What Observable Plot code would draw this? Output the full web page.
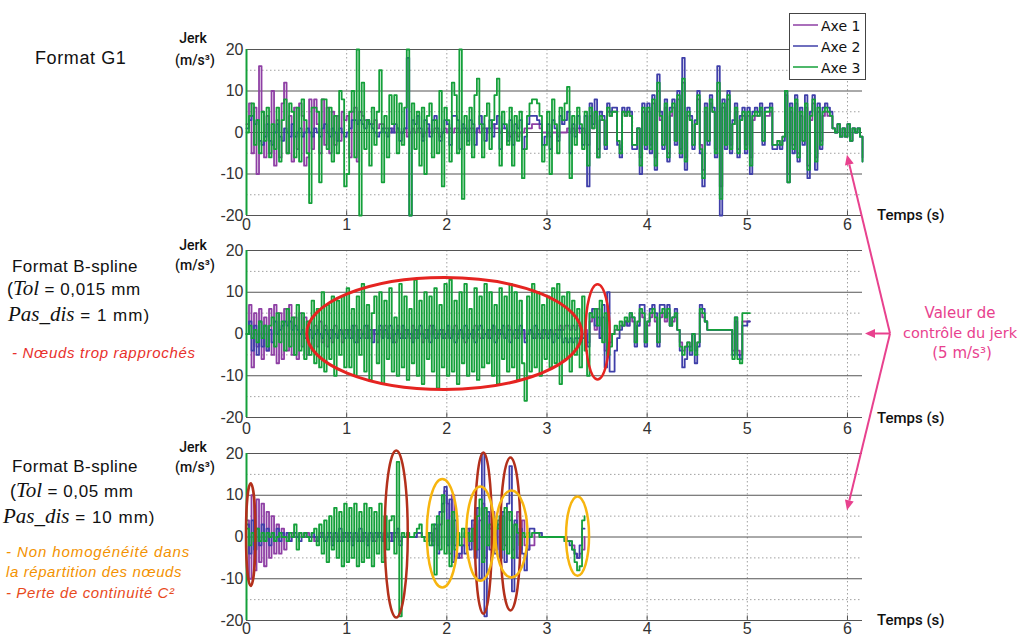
<!DOCTYPE html>
<html><head><meta charset="utf-8">
<script src="https://cdn.jsdelivr.net/npm/d3@7"></script>
<script src="https://cdn.jsdelivr.net/npm/@observablehq/plot@0.6"></script>
<style>
html,body{margin:0;padding:0;background:#fff;}
#wrap{position:relative;width:1017px;height:637px;overflow:hidden;background:#fff;}
#wrap svg.panel{position:absolute;left:0;}
#overlay{position:absolute;left:0;top:0;pointer-events:none;}
</style></head><body><div id="wrap"></div>
<script>
// ---------- data (jerk, m/s^3), sampled every DT seconds from t = 0 ----------
const DT = 0.025;
const axes = ["Axe 1", "Axe 2", "Axe 3"];
const xTicks = [0, 1, 2, 3, 4, 5, 6];
const yTicks = [-20, -10, 0, 10, 20];

// Panel 1 : Format G1
const g1Axe1 = [
  2,7,-5,6,-10,16,5,-6,4,-5,10,-8,3,-6,7,12,-5,4,-7,6,-4,7,4,-8,-6,8,-4,8,2,-5,8,-3,6,-5,5,-3,4,-2,5,3,
  4,-6,5,6,-7,5,4,3,3,2,2,3,1,2,2,1,1,0,1,0,1,0,0,1,-1,0,1,0,1,0,-1,0,1,0,0,1,0,-1,0,1,
  0,1,0,1,1,0,1,0,0,1,1,0,1,0,1,1,0,1,2,1,1,0,1,1,0,-1,0,0,-1,0,0,1,1,1,2,2,2,1,0,0,
  0,-1,0,0,-1,0,0,0,1,0,1,0,1,0,1,0,-3,4,1,5,-4,3,3,-3,5,4,5,5,-2,-4,5,4,5,4,-3,-3,1,-6,5,-3,
  5,-3,7,-6,10,3,-3,6,-5,4,6,-2,8,-4,12,-6,4,3,-3,2,8,-3,-9,5,-2,7,5,-4,10,-13,6,-3,8,-3,2,5,-4,3,4,-3,
  4,-6,3,4,4,5,-2,4,4,5,-3,-3,-2,-3,-1,9,-10,5,-3,7,-5,4,-2,6,-8,3,7,-6,5,-2,4,5,4,4,1,0,2,-1,1,-1,
  2,-2,1,0,1,-1,-6];
const g1Axe2 = [
  1,3,4,2,3,-2,-3,-1,2,-2,-3,0,2,-1,-2,1,0,-1,2,-1,0,1,-1,0,1,0,-1,1,0,-1,1,2,0,-1,1,0,-2,1,0,-1,
  0,1,3,3,2,3,2,1,3,2,1,0,-1,0,1,0,-1,1,0,2,1,-2,0,1,18,-20,3,2,4,1,-2,3,2,-1,3,4,1,-2,0,3,
  2,-3,4,4,3,-4,2,1,-2,3,2,-3,1,4,2,-2,1,3,-1,2,4,-4,2,1,-2,3,-3,2,1,3,-4,-1,2,4,4,4,3,2,-3,-1,
  2,-4,3,1,-2,4,2,3,5,-5,2,-1,4,1,-3,4,-13,7,2,8,-6,5,4,-4,7,5,6,6,-3,-6,6,5,6,5,-4,-4,1,-10,7,-4,
  7,-5,9,-9,14,5,-4,8,-7,6,8,-3,10,-6,18,-9,6,4,-4,3,10,-5,-13,7,-3,9,6,-6,16,-20,8,-4,10,-5,3,7,-6,4,6,-5,
  6,-10,5,6,5,7,-3,6,6,7,-4,-4,-3,-4,-2,10,-12,7,-5,9,-7,6,-3,9,-11,5,9,-9,7,-4,6,7,6,5,1,0,2,-1,1,-1,
  2,-2,1,0,1,-1,-7];
const g1Axe3 = [
  0,4,7,-3,3,-5,5,-2,6,-6,2,-4,6,-7,3,8,-5,7,5,-6,6,-7,8,3,-5,-17,6,6,5,-12,8,8,-4,6,-7,4,-5,10,8,-13,
  -10,5,10,-6,20,-20,12,-4,3,-8,6,-3,5,15,-12,4,-6,9,2,9,-5,7,-3,6,20,-20,7,-4,5,-8,6,-10,4,7,-6,3,-5,10,-13,6,
  3,-7,12,9,-5,20,-16,4,-3,6,-6,9,13,2,-6,4,7,-4,3,9,13,-8,5,2,-3,6,-8,4,-2,5,-11,-4,4,7,8,8,7,4,-7,-3,
  5,-10,8,2,-5,6,3,7,11,-11,4,-3,6,2,-4,5,-8,6,1,5,-6,4,3,-3,6,4,5,5,-2,-5,5,4,5,4,-3,-3,1,-8,6,-3,
  6,-4,8,-8,12,4,-3,7,-6,5,7,-2,9,-5,13,-7,5,3,-3,2,9,-4,-11,6,-2,8,5,-5,12,-16,7,-3,9,-4,2,6,-5,3,5,-4,
  5,-8,4,5,4,6,-2,5,5,6,-3,-3,-2,-3,-1,10,-12,6,-4,8,-6,5,-2,7,-9,4,8,-7,6,-3,5,6,5,4,1,0,2,-1,1,-1,
  2,-2,1,0,1,-1,-7];

// Panel 2 : Format B-spline (Tol = 0,015 mm, Pas_dis = 1 mm)
const b1Axe1 = [
  0,7,-8,5,-3,6,-6,4,-4,6,-5,7,-7,5,-6,6,-4,7,-5,4,-6,5,-3,4,-5,3,-4,2,-3,3,-2,2,-3,1,-2,2,-1,1,-2,1,
  0,1,-1,2,-2,1,0,-1,2,-1,1,0,-2,1,-1,2,0,-1,1,-2,2,0,-1,1,0,-1,2,-1,1,0,-2,1,-1,2,0,1,-1,0,1,-1,
  1,-1,0,2,-1,1,0,-2,1,0,-1,2,0,-1,1,0,-1,1,2,0,-1,1,0,-1,2,1,0,-1,1,0,1,-1,0,1,0,-1,1,0,-1,1,
  0,1,0,1,1,2,1,2,2,1,2,1,2,1,0,1,-2,3,4,1,6,-1,4,-4,-3,-2,0,1,1,2,2,3,2,4,3,-2,2,5,4,-2,
  2,4,5,3,-2,4,5,3,5,2,3,4,1,-2,-4,-3,-2,-3,0,-4,-2,5,4,3,1,1,1,1,1,1,1,1,1,1,-4,3,-4,-5,3,3,
  3,3];
const b1Axe2 = [
  0,3,-4,2,-5,3,-3,2,-4,1,-2,3,0,1,2,3,2,3,1,2,1,0,1,-1,0,1,-1,0,1,0,-1,1,0,-1,1,0,-1,1,0,-1,
  1,-1,2,-2,1,-1,0,2,-1,1,-2,1,0,2,-1,1,-1,2,-2,0,1,-1,2,-1,1,0,-2,1,-1,2,0,-1,1,-2,2,-1,0,1,-1,0,
  2,-1,1,-2,0,1,-1,2,-1,0,1,-2,1,2,-1,0,1,-1,2,-2,1,0,2,-1,1,-2,0,1,-1,2,1,-2,0,1,-1,2,0,-1,1,0,
  -1,1,-2,0,-1,1,-2,-1,-2,-1,-2,-1,-1,-2,-1,0,-3,5,6,2,4,-1,7,-8,10,-9,-9,-4,-1,1,2,3,2,5,4,-3,2,7,7,-3,
  3,6,7,5,-3,7,7,4,7,2,4,6,1,-4,-8,-6,-3,-5,0,-7,-3,7,6,3,1,1,1,1,1,1,1,1,1,1,-5,4,-5,-6,2,2,
  3,3];
const b1Axe3 = [
  0,2,-1,1,-2,3,-1,2,-3,2,4,-3,5,-2,3,-4,6,-3,4,-5,7,-4,5,-6,3,-5,8,-7,6,-8,10,-9,7,-6,9,-10,8,-5,9,-8,
  11,-8,6,-10,9,-5,12,-9,7,-11,5,9,-7,10,-12,8,-6,11,-9,4,-10,12,-8,9,-11,6,-7,13,-10,8,-12,10,-6,9,-9,11,-13,7,-8,12,
  -10,13,-9,8,-12,10,-7,12,-10,6,-9,11,-11,9,-8,12,-7,10,-10,7,-12,11,-6,9,-9,12,-8,10,-11,8,-7,-16,9,-9,12,-8,10,-10,7,-6,
  9,-8,11,-7,12,-12,9,-6,10,-9,8,-5,6,-8,9,-4,-10,5,4,6,2,8,-2,5,-5,-3,0,2,1,3,2,4,3,5,4,-2,3,6,5,-2,
  3,5,6,4,-2,5,6,4,6,2,4,5,1,-3,-5,-3,-2,-4,0,-5,-2,6,5,3,1,1,1,1,1,1,1,1,1,1,-6,4,-6,-7,5,5,
  5,5];

// Panel 3 : Format B-spline (Tol = 0,05 mm, Pas_dis = 10 mm)
const b2Axe1 = [
  4,-10,10,-8,9,-6,8,-7,6,-5,5,-4,3,-4,2,-3,1,-1,1,0,0,1,0,0,1,0,0,-1,0,1,0,-1,1,0,-1,1,0,-1,1,0,
  1,0,-1,1,0,-1,1,0,-1,1,0,-1,1,0,-1,1,0,-1,1,0,1,-1,0,0,0,0,0,0,1,1,0,0,-1,1,-1,2,-2,3,6,11,
  8,-4,10,-2,-4,-5,-2,1,-2,2,-1,3,-3,4,8,-5,5,2,6,-3,4,-3,5,-2,6,4,-3,3,6,-3,4,-2,-3,-2,-2,1,1,0,0,0,
  0,0,0,0,0,0,0,0,-1,-1,-2,-4,-5,-4,-3,0];
const b2Axe2 = [
  3,-4,4,-3,2,-2,3,-1,2,-2,1,-1,2,-1,1,0,1,-1,0,1,0,-1,0,1,0,0,1,0,-1,0,1,-1,0,1,-2,1,-1,2,-1,1,
  -1,1,-2,1,-1,2,-1,1,-2,1,-1,1,0,1,-1,1,0,1,-1,1,2,-2,0,0,0,0,0,0,1,1,0,0,-1,1,-2,3,-4,6,8,12,
  -2,9,-6,4,-5,-4,-2,-4,2,-3,4,-5,7,-10,20,-19,6,-3,5,-4,3,-5,6,-6,8,17,-13,4,-5,2,-4,-8,-3,2,2,1,1,1,0,0,
  0,0,0,0,0,0,0,-1,-1,-2,-3,-4,-5,-2,2,2];
const b2Axe3 = [
  2,-2,1,-1,2,-1,1,-1,1,0,1,-1,0,1,0,0,-1,1,0,3,-3,1,0,1,0,-1,1,2,-2,3,-4,4,-6,5,-3,7,-5,6,-7,8,
  -6,7,-5,8,-7,6,-6,8,-5,7,-7,6,-4,8,-6,5,-3,4,5,-4,18,-19,1,0,1,0,0,1,2,3,0,-1,1,-2,3,-9,5,-3,10,-4,
  4,-7,6,-3,1,-2,2,0,1,-1,2,-3,5,9,-6,7,-2,3,-1,4,2,5,-3,7,-4,6,-5,3,1,-2,1,0,1,0,1,1,1,0,0,0,
  0,0,0,0,0,0,0,-1,-1,-1,-3,-6,-8,-7,4,5];

// ---------- styling ----------
const colors = {"Axe 1": "#8e3fa4", "Axe 2": "#3f3fa9", "Axe 3": "#14a03a"};
const sans = "'Liberation Sans', Arial, sans-serif";
const serif = "'Liberation Serif', 'Times New Roman', serif";
const deja = "'DejaVu Sans', Verdana, sans-serif";
const pink = "#e8418e";

const panelsCfg = [
  {top: 0,   height: 237, mt: 49, mb: 22, xPad: 3, series: [g1Axe1, g1Axe2, g1Axe3]},
  {top: 237, height: 200, mt: 13, mb: 20, xPad: 5, series: [b1Axe1, b1Axe2, b1Axe3]},
  {top: 437, height: 200, mt: 16, mb: 17, xPad: 2, series: [b2Axe1, b2Axe2, b2Axe3]}
];

const wrap = document.getElementById("wrap");
const plots = panelsCfg.map(cfg => {
  const rows = [];
  cfg.series.forEach((vals, k) => vals.forEach((v, i) => rows.push({axe: axes[k], t: i * DT, v})));
  const p = Plot.plot({
    width: 1017, height: cfg.height,
    marginLeft: 246, marginRight: 155, marginTop: cfg.mt, marginBottom: cfg.mb,
    style: {fontFamily: sans, fontSize: "16px", color: "#333", background: "transparent", overflow: "visible"},
    x: {domain: [0, 6.15], ticks: xTicks, tickSize: 0, tickPadding: cfg.xPad, label: null, tickFormat: d => String(d)},
    y: {domain: [-20, 20], ticks: yTicks, tickSize: 0, tickPadding: 3, label: null, tickFormat: d => String(d)},
    marks: [
      Plot.ruleY([-15, -5, 5, 15], {stroke: "#a0a0a0", strokeDasharray: "1.5,2.5"}),
      Plot.ruleX([1, 2, 3, 4, 5, 6], {stroke: "#a0a0a0", strokeDasharray: "1.5,2.5"}),
      Plot.ruleY(yTicks, {stroke: "#555"}),
      Plot.ruleX(xTicks, {y1: -20, y2: -18.9, stroke: "#555"}),
      ...axes.map(a => Plot.line(rows.filter(r => r.axe === a),
        {x: "t", y: "v", stroke: colors[a], strokeWidth: 1.8, curve: "step-after"})),
      Plot.ruleX([0], {stroke: colors["Axe 3"], strokeWidth: 2})
    ]
  });
  p.classList.add("panel");
  p.style.top = cfg.top + "px";
  wrap.appendChild(p);
  return p;
});

// ---------- annotation overlay ----------
const ov = d3.create("svg").attr("id", "overlay").attr("width", 1017).attr("height", 637);
const X = (k, t) => plots[k].scale("x").apply(t);
const Y = (k, v) => plots[k].scale("y").apply(v) + panelsCfg[k].top;

function txt(x, y, parts, opts = {}) {
  const t = ov.append("text").attr("x", x).attr("y", y)
    .attr("text-anchor", opts.anchor || "start")
    .attr("fill", opts.fill || "#111");
  parts.forEach(p => {
    t.append("tspan").text(p.s)
      .attr("font-family", p.f || sans)
      .attr("font-size", p.size || 16)
      .attr("font-style", p.it ? "italic" : "normal")
      .attr("font-weight", p.w || "normal")
      .attr("letter-spacing", p.ls || 0);
  });
  return t;
}

// left titles
txt(35, 64, [{s: "Format G1", size: 18, ls: 0.6}]);
txt(12, 272, [{s: "Format B-spline", size: 17, ls: 0.4}]);
txt(7, 295, [{s: "(", size: 18}, {s: "Tol", f: serif, it: true, size: 21}, {s: " = 0,015 mm", size: 17, ls: 0.6}]);
txt(8, 321, [{s: "Pas_dis", f: serif, it: true, size: 21}, {s: " = 1 mm)", size: 17, ls: 1}]);
txt(12, 358, [{s: "- Nœuds trop rapprochés", it: true, size: 15, ls: 0.7}], {fill: "#e8302c"});

txt(12, 472, [{s: "Format B-spline", size: 17, ls: 0.4}]);
txt(10, 497, [{s: "(", size: 18}, {s: "Tol", f: serif, it: true, size: 21}, {s: " = 0,05 mm", size: 17, ls: 0.6}]);
txt(3, 523, [{s: "Pas_dis", f: serif, it: true, size: 21}, {s: " = 10 mm)", size: 17, ls: 1}]);
txt(6, 557, [{s: "- Non homogénéité dans", it: true, size: 15, ls: 0.9}], {fill: "#f39200"});
txt(6, 577, [{s: "la répartition des nœuds", it: true, size: 15, ls: 0.6}], {fill: "#f39200"});
txt(6, 598, [{s: "- Perte de continuité C²", it: true, size: 15, ls: 0.6}], {fill: "#e84a1c"});

// axis titles
const jerkY = [[43, 65], [250, 270], [452, 472]];
jerkY.forEach(([a, b]) => {
  txt(193, a, [{s: "Jerk", f: "Roboto, sans-serif", w: 500, size: 14}], {anchor: "middle"});
  txt(195, b, [{s: "(m/s³)", f: "Roboto, sans-serif", w: 500, size: 14}], {anchor: "middle"});
});
[220, 423, 625].forEach(y => txt(877, y, [{s: "Temps (s)", f: "Roboto, sans-serif", w: 500, size: 15}]));

// legend
const lg = ov.append("g");
lg.append("rect").attr("x", 789.5).attr("y", 13.5).attr("width", 76).attr("height", 66)
  .attr("fill", "#fff").attr("stroke", "#444");
axes.forEach((a, i) => {
  const y = 25 + i * 21;
  lg.append("line").attr("x1", 793).attr("x2", 818).attr("y1", y).attr("y2", y)
    .attr("stroke", colors[a]).attr("stroke-width", 1.5);
  txt(821, y + 6, [{s: a, f: deja, size: 14}]);
});

// ellipses (data coordinates: centre t, v ; half-widths rt, rv)
const ellipses = [
  {k: 1, t: 1.98, v: 0, rt: 1.373, rv: 13.4, c: "#e52421", w: 3},
  {k: 1, t: 3.51, v: 0.4, rt: 0.12, rv: 11.4, c: "#e52421", w: 2.5},
  {k: 2, t: 0.047, v: 0.45, rt: 0.047, rv: 12.3, c: "#b3301b", w: 2.5},
  {k: 2, t: 1.5, v: 0.6, rt: 0.115, rv: 20, c: "#b3301b", w: 2.5},
  {k: 2, t: 2.37, v: 0.8, rt: 0.085, rv: 19.3, c: "#b3301b", w: 2.5},
  {k: 2, t: 2.64, v: 0.6, rt: 0.1, rv: 18.3, c: "#b3301b", w: 2.5},
  {k: 2, t: 1.96, v: 0.8, rt: 0.155, rv: 13, c: "#f7b50f", w: 2.5},
  {k: 2, t: 2.34, v: 0.7, rt: 0.14, rv: 11.3, c: "#f7b50f", w: 2.5},
  {k: 2, t: 2.65, v: 0.6, rt: 0.16, rv: 10.4, c: "#f7b50f", w: 2.5},
  {k: 2, t: 3.31, v: 0.1, rt: 0.115, rv: 9.5, c: "#f7b50f", w: 2.5}
];
ellipses.forEach(e => {
  const cx = X(e.k, e.t), cy = Y(e.k, e.v);
  ov.append("ellipse").attr("cx", cx).attr("cy", cy)
    .attr("rx", Math.abs(X(e.k, e.t + e.rt) - cx))
    .attr("ry", Math.abs(Y(e.k, e.v + e.rv) - cy))
    .attr("fill", "none").attr("stroke", e.c).attr("stroke-width", e.w);
});

// pink control-value arrows
const vx = X(1, 6.43), vy = Y(1, 0);
const targets = [[X(0, 6), Y(0, -5.5)], [X(1, 6.18), Y(1, 0)], [X(2, 6), Y(2, 6.3)]];
targets.forEach(([tx, ty]) => {
  const dx = tx - vx, dy = ty - vy, L = Math.hypot(dx, dy), ux = dx / L, uy = dy / L;
  const hl = 10, hw = 4.5;
  const bx = tx - ux * hl, by = ty - uy * hl;
  ov.append("line").attr("x1", vx).attr("y1", vy).attr("x2", bx).attr("y2", by)
    .attr("stroke", pink).attr("stroke-width", 2);
  ov.append("path")
    .attr("d", `M${tx},${ty}L${bx - uy * hw},${by + ux * hw}L${bx + uy * hw},${by - ux * hw}Z`)
    .attr("fill", pink);
});
txt(960, 318, [{s: "Valeur de", f: deja, size: 15}], {anchor: "middle", fill: pink});
txt(960, 338, [{s: "contrôle du jerk", f: deja, size: 14.5}], {anchor: "middle", fill: pink});
txt(962, 358, [{s: "(5 m/s³)", f: deja, size: 15}], {anchor: "middle", fill: pink});

wrap.appendChild(ov.node());
</script></body></html>
